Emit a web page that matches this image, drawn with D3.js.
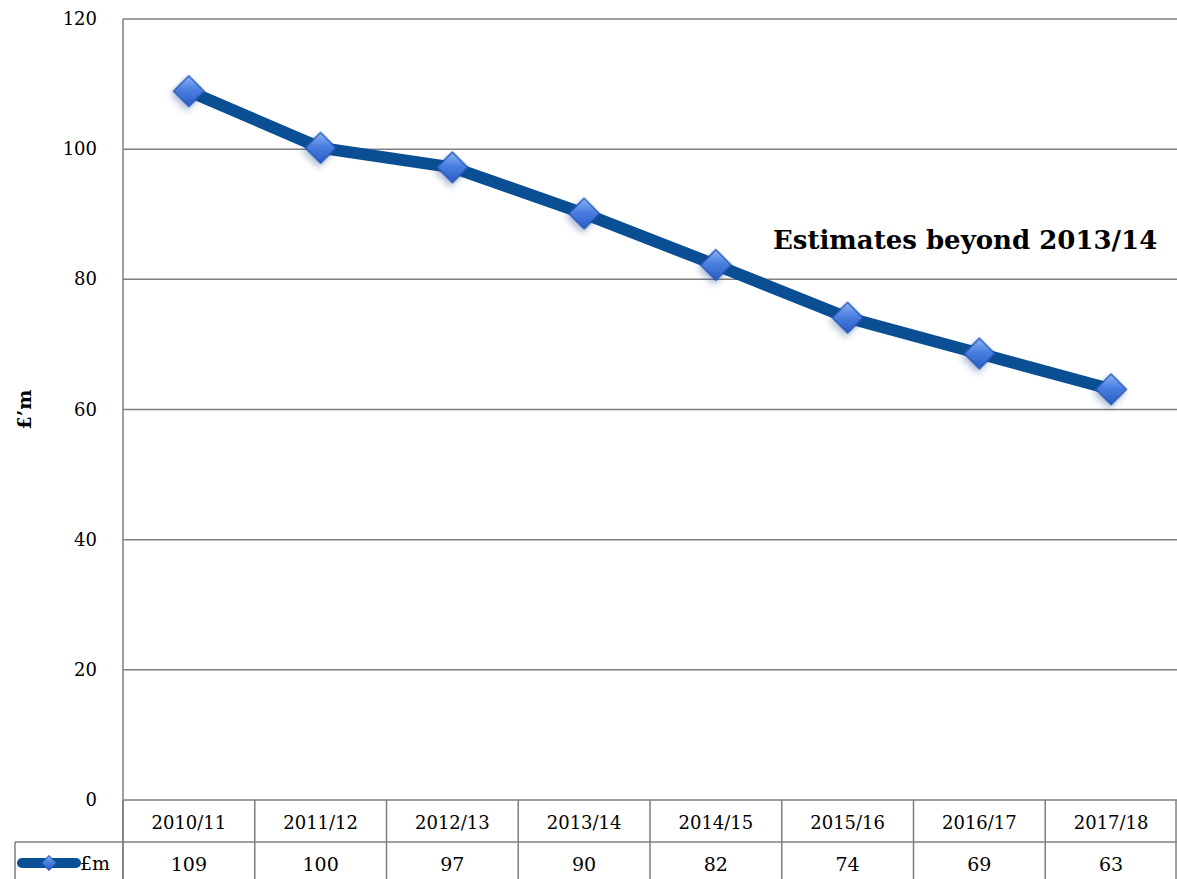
<!DOCTYPE html>
<html>
<head>
<meta charset="utf-8">
<script src="https://cdn.jsdelivr.net/npm/d3@7"></script>
<style>
  body { margin: 0; background: #fff; }
  text { font-family: "DejaVu Serif", "Liberation Serif", serif; fill: #000; }
</style>
</head>
<body>
<div id="chart"></div>
<script>
// chart data
let years = ["2010/11", "2011/12", "2012/13", "2013/14", "2014/15", "2015/16", "2016/17", "2017/18"];
let values = [108.9, 100.2, 97.2, 90.1, 82.2, 74.1, 68.6, 63.1];
let yTicks = [0, 20, 40, 60, 80, 100, 120];
let seriesName = "£m";
let note = "Estimates beyond 2013/14";

let w = 1177, h = 879;
let plotLeft = 123, plotRight = 1177, plotTop = 19, plotBottom = 800;
let rowH = 42;
let gridColor = "#7f7f7f";
let lineColor = "#0a4f93";

let svg = d3.select("#chart")
    .append("svg")
    .attr("width", w)
    .attr("height", h);

let defs = svg.append("defs");
let grad = defs.append("linearGradient")
    .attr("id", "diamondFill")
    .attr("x1", "0%").attr("y1", "0%")
    .attr("x2", "100%").attr("y2", "100%");
grad.append("stop").attr("offset", "0%").attr("stop-color", "#8ab4f8");
grad.append("stop").attr("offset", "45%").attr("stop-color", "#4a7fe0");
grad.append("stop").attr("offset", "100%").attr("stop-color", "#2a5cc4");
let blur = defs.append("filter").attr("id", "shadow")
    .attr("x", "-50%").attr("y", "-50%").attr("width", "200%").attr("height", "200%");
blur.append("feDropShadow")
    .attr("dx", 1).attr("dy", 4).attr("stdDeviation", 3)
    .attr("flood-color", "#1a3f80").attr("flood-opacity", 0.35);

let x = d3.scaleBand().domain(years).range([plotLeft, plotRight]);
let y = d3.scaleLinear().domain([0, 120]).range([plotBottom, plotTop]);

// gridlines
svg.append("g").selectAll("line.grid")
    .data(yTicks)
    .enter()
    .append("line")
    .attr("x1", plotLeft)
    .attr("x2", plotRight)
    .attr("y1", d => y(d))
    .attr("y2", d => y(d))
    .attr("stroke", gridColor)
    .attr("stroke-width", 1.5);

// y axis line
svg.append("line")
    .attr("x1", plotLeft).attr("x2", plotLeft)
    .attr("y1", plotTop).attr("y2", h)
    .attr("stroke", gridColor).attr("stroke-width", 1.5);

// y tick labels
svg.append("g").selectAll("text.tick")
    .data(yTicks)
    .enter()
    .append("text")
    .attr("x", 97)
    .attr("y", d => y(d) + 6)
    .attr("text-anchor", "end")
    .style("font-size", "18px")
    .text(d => d);

// y axis title
svg.append("text")
    .attr("transform", "translate(31," + y(60) + ") rotate(-90)")
    .attr("text-anchor", "middle")
    .style("font-size", "19px")
    .style("font-weight", "bold")
    .text("£’m");

// data table grid
let table = svg.append("g");
table.selectAll("line.col")
    .data(years.map(d => x(d)).concat([plotRight - 1]))
    .enter()
    .append("line")
    .attr("x1", d => d).attr("x2", d => d)
    .attr("y1", plotBottom).attr("y2", h)
    .attr("stroke", gridColor).attr("stroke-width", 1.5);
table.append("line")
    .attr("x1", 15).attr("x2", plotRight)
    .attr("y1", plotBottom + rowH).attr("y2", plotBottom + rowH)
    .attr("stroke", gridColor).attr("stroke-width", 1.5);
table.append("line")
    .attr("x1", 15).attr("x2", 15)
    .attr("y1", plotBottom + rowH).attr("y2", h)
    .attr("stroke", gridColor).attr("stroke-width", 1.5);

table.selectAll("text.year")
    .data(years)
    .enter()
    .append("text")
    .attr("x", d => x(d) + x.bandwidth() / 2)
    .attr("y", plotBottom + 29)
    .attr("text-anchor", "middle")
    .style("font-size", "18px")
    .text(d => d);

table.selectAll("text.val")
    .data(values)
    .enter()
    .append("text")
    .attr("x", (d, i) => x(years[i]) + x.bandwidth() / 2)
    .attr("y", plotBottom + rowH + 29)
    .attr("text-anchor", "middle")
    .style("font-size", "19px")
    .text(d => d3.format(".0f")(d));

// legend key in the table
let key = table.append("g").attr("transform", "translate(0," + (plotBottom + rowH + 21) + ")");
key.append("line")
    .attr("x1", 22).attr("x2", 76)
    .attr("y1", 0).attr("y2", 0)
    .attr("stroke", lineColor).attr("stroke-width", 10)
    .attr("stroke-linecap", "round");
key.append("path")
    .attr("d", d3.symbol(d3.symbolSquare, 110)())
    .attr("transform", "translate(49,0) rotate(45)")
    .attr("fill", "url(#diamondFill)")
    .attr("stroke", "#2456b8").attr("stroke-width", 1);
key.append("text")
    .attr("x", 80).attr("y", 7)
    .style("font-size", "19px")
    .text(seriesName);

// series line
let line = d3.line()
    .x((d, i) => x(years[i]) + x.bandwidth() / 2)
    .y(d => y(d));
svg.append("path")
    .datum(values)
    .attr("d", line)
    .attr("fill", "none")
    .attr("stroke", lineColor)
    .attr("stroke-width", 12)
    .attr("stroke-linejoin", "round");

// markers
svg.append("g").selectAll("path.marker")
    .data(values)
    .enter()
    .append("path")
    .attr("d", d3.symbol(d3.symbolSquare, 470)())
    .attr("transform", (d, i) => "translate(" + (x(years[i]) + x.bandwidth() / 2) + "," + y(d) + ") rotate(45)")
    .attr("fill", "url(#diamondFill)")
    .attr("stroke", "#2456b8")
    .attr("stroke-width", 1.5)
    .attr("filter", "url(#shadow)");

// annotation
svg.append("text")
    .attr("x", 773)
    .attr("y", 249)
    .style("font-size", "26px")
    .style("font-weight", "bold")
    .text(note);
</script>
</body>
</html>
